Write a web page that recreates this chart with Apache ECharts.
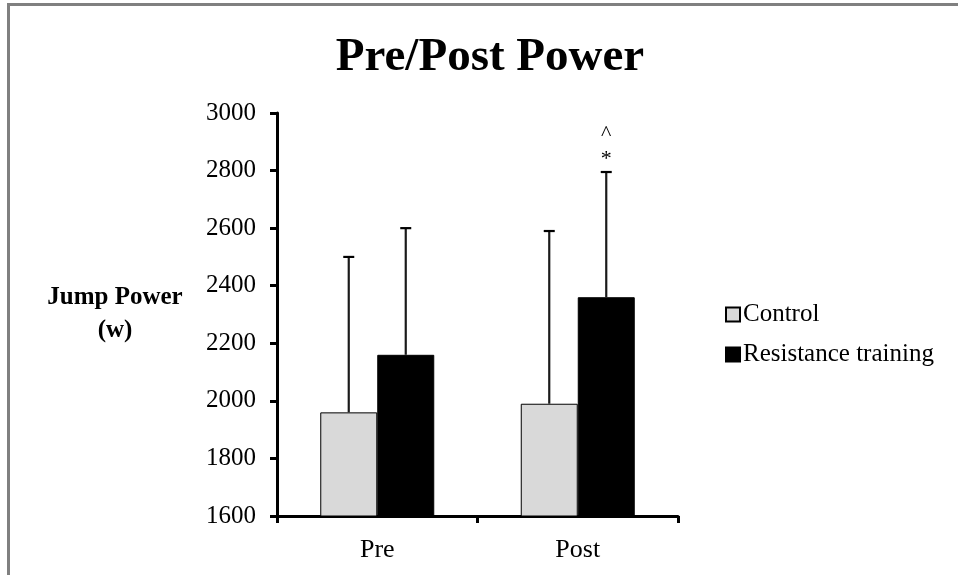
<!DOCTYPE html>
<html>
<head>
<meta charset="utf-8">
<script src="https://cdn.jsdelivr.net/npm/echarts@6/dist/echarts.min.js"></script>
<style>html,body{margin:0;padding:0;background:#fff}#c{width:958px;height:575px}</style>
</head>
<body>
<div id="c"></div>
<script>
const categories = ['Pre', 'Post'];
const controlValues = [1960, 1990];
const trainingValues = [2160, 2360];
const controlErrorTops = [2500, 2590];
const trainingErrorTops = [2600, 2795];
const trainingMarks = ['', '^\n*'];
const yTicks = [1600, 1800, 2000, 2200, 2400, 2600, 2800, 3000];

const FONT = '"Liberation Serif", "Times New Roman", serif';
const BAR_W = 57;

function errorSeries(name, values, tops, marks, side) {
  return {
    type: 'custom',
    name: name + ' err',
    z: 5,
    silent: true,
    data: values.map((v, i) => [i, v, tops[i], marks ? marks[i] : '']),
    renderItem: function (params, api) {
      const i = api.value(0);
      const base = api.coord([i, api.value(1)]);
      const top = api.coord([i, api.value(2)]);
      const x = base[0] + side * BAR_W / 2;
      const children = [
        { type: 'line', shape: { x1: x, y1: base[1], x2: x, y2: top[1] }, style: { stroke: '#1a1a1a', lineWidth: 2.2 } },
        { type: 'line', shape: { x1: x - 5.5, y1: top[1], x2: x + 5.5, y2: top[1] }, style: { stroke: '#000', lineWidth: 2.2 } }
      ];
      const m = api.value(3);
      if (m) {
        const parts = String(m).split('\n');
        parts.forEach((p, k) => {
          children.push({
            type: 'text',
            style: { text: p, x: x, y: top[1] - 13 - (parts.length - 1 - k) * 25, align: 'center', verticalAlign: 'middle', font: '22px ' + FONT, fill: '#000' }
          });
        });
      }
      return { type: 'group', children: children };
    }
  };
}

const chart = echarts.init(document.getElementById('c'), null, { renderer: 'canvas' });
chart.setOption({
  animation: false,
  backgroundColor: '#fff',
  title: {
    text: 'Pre/Post Power',
    left: 485, top: 29, textAlign: 'center',
    textStyle: { fontFamily: FONT, fontWeight: 'bold', fontSize: 47, color: '#000' }
  },
  graphic: [
    { type: 'rect', shape: { x: 8.5, y: 4.5, width: 1200, height: 1000 }, style: { fill: 'none', stroke: '#808080', lineWidth: 3 }, z: 100 }
  ],
  legend: {
    orient: 'vertical', left: 720, top: 297, itemWidth: 14, itemHeight: 14, itemGap: 15,
    icon: 'rect',
    data: ['Control', 'Resistance training'],
    textStyle: { fontFamily: FONT, fontSize: 25, color: '#000', padding: [0, 0, 0, -2] }
  },
  grid: { left: 277, right: 280, top: 113, bottom: 59 },
  xAxis: {
    type: 'category', data: categories,
    axisLine: { lineStyle: { color: '#000', width: 3 } },
    axisTick: { show: true, length: 7, lineStyle: { color: '#000', width: 3 } },
    axisLabel: { fontFamily: FONT, fontSize: 26, color: '#000', margin: 21 }
  },
  yAxis: {
    type: 'value', min: yTicks[0], max: yTicks[yTicks.length - 1], interval: 200,
    name: 'Jump Power\n(w)', nameLocation: 'middle', nameRotate: 0, nameGap: 162,
    nameTextStyle: { fontFamily: FONT, fontWeight: 'bold', fontSize: 25, color: '#000', align: 'center', verticalAlign: 'middle', lineHeight: 33 },
    splitLine: { show: false },
    axisLine: { show: true, lineStyle: { color: '#000', width: 3 } },
    axisTick: { show: true, length: 7, lineStyle: { color: '#000', width: 3 } },
    axisLabel: { fontFamily: FONT, fontSize: 25, color: '#000', margin: 21, formatter: v => String(v) }
  },
  series: [
    { name: 'Control', type: 'bar', data: controlValues, barWidth: BAR_W, barGap: '0%',
      itemStyle: { color: '#d9d9d9', borderColor: '#000', borderWidth: 1 } },
    { name: 'Resistance training', type: 'bar', data: trainingValues, barWidth: BAR_W, barGap: '0%',
      itemStyle: { color: '#000', borderColor: '#000', borderWidth: 1 } },
    errorSeries('Control', controlValues, controlErrorTops, null, -1),
    errorSeries('Resistance training', trainingValues, trainingErrorTops, trainingMarks, 1)
  ]
});
</script>
</body>
</html>
